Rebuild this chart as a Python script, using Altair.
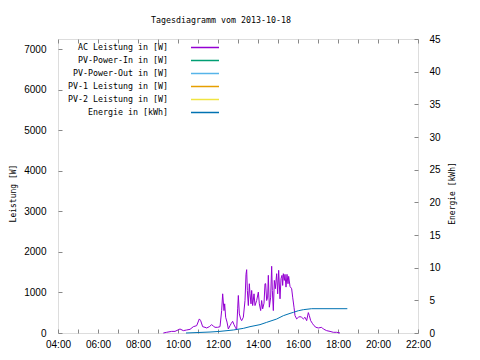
import altair as alt
import pandas as pd

# --- data -------------------------------------------------------------------
series_names = ["AC Leistung in [W]", "PV-Power-In in [W]", "PV-Power-Out in [W]",
                "PV-1 Leistung in [W]", "PV-2 Leistung in [W]", "Energie in [kWh]"]
series_colors = ["#9400d3", "#009e73", "#56b4e9", "#e69f00", "#f0e442", "#0072b2"]

ac_times = ["09:16", "09:26", "09:41", "09:51", "10:06", "10:16", "10:26", "10:36", "10:46", "10:56",
            "11:04", "11:08", "11:14", "11:21", "11:26", "11:34", "11:41", "11:46", "11:51", "11:59",
            "12:06", "12:11", "12:14", "12:18", "12:20", "12:23", "12:27", "12:31", "12:36", "12:40",
            "12:44", "12:48", "12:52", "12:56", "12:59", "13:01", "13:04", "13:08", "13:11", "13:16",
            "13:21", "13:24", "13:26", "13:28", "13:31", "13:34", "13:36", "13:39", "13:41", "13:44",
            "13:48", "13:51", "13:56", "14:01", "14:04", "14:08", "14:11", "14:14", "14:18", "14:21",
            "14:23", "14:26", "14:29", "14:31", "14:34", "14:38", "14:41", "14:43", "14:46", "14:49",
            "14:52", "14:56", "14:59", "15:02", "15:06", "15:09", "15:12", "15:14", "15:16", "15:19",
            "15:21", "15:24", "15:27", "15:30", "15:32", "15:36", "15:41", "15:44", "15:48", "15:51",
            "15:56", "16:01", "16:06", "16:11", "16:16", "16:21", "16:26", "16:31", "16:34", "16:38",
            "16:43", "16:48", "16:54", "17:01", "17:11", "17:16", "17:26", "17:36", "17:46", "17:56",
            "18:06"]
ac_watts = [0, 17, 40, 40, 99, 58, 74, 90, 156, 181,
            347, 305, 156, 140, 124, 156, 206, 170, 140, 140,
            156, 553, 966, 553, 719, 388, 270, 99, 181, 239,
            288, 206, 140, 82, 595, 925, 471, 347, 305, 388,
            801, 1446, 1562, 1049, 677, 1215, 966, 719, 1049, 677,
            966, 677, 801, 1008, 719, 553, 801, 595, 735, 1215,
            1215, 801, 884, 1422, 636, 884, 1645, 1049, 553, 1297,
            1091, 1463, 966, 1546, 843, 1339, 1422, 1173, 1463, 1297,
            1446, 1132, 1446, 1215, 1397, 1149, 1091, 884, 636, 429,
            347, 388, 404, 388, 347, 388, 305, 503, 429, 305,
            239, 181, 140, 124, 140, 99, 58, 40, 17, 17,
            0]

energy_times = ["10:24", "11:36", "12:06", "12:46", "13:16", "13:36", "14:06", "14:26", "14:56",
                "15:16", "15:36", "15:46", "16:01", "16:16", "16:41", "18:28"]
energy_kwh = [0.0, 0.15, 0.25, 0.46, 0.71, 0.97, 1.28, 1.63, 2.14,
              2.65, 3.0, 3.16, 3.41, 3.57, 3.72, 3.72]

x_ticks = list(range(4, 23))
y_left_ticks = list(range(0, 7001, 1000))
y_right_ticks = list(range(0, 46, 5))


def to_hours(s):
    h, m = s.split(":")
    return int(h) + int(m) / 60.0


power_df = pd.DataFrame({"t": [to_hours(s) for s in ac_times], "v": ac_watts,
                         "series": series_names[0]})
energy_df = pd.DataFrame({"t": [to_hours(s) for s in energy_times], "v": energy_kwh,
                          "series": series_names[5]})

FONT = "DejaVu Sans Mono"
FS = 8

x_scale = alt.Scale(domain=[4, 22], nice=False, zero=False)
color = alt.Color("series:N", scale=alt.Scale(domain=series_names, range=series_colors),
                  legend=alt.Legend(orient="none", legendX=142.5, legendY=4, title=None,
                                    padding=0, symbolType="M-4,0H4", symbolSize=49,
                                    symbolStrokeWidth=1.5, rowPadding=4,
                                    labelAlign="right", labelOffset={"expr": "-41.5"},
                                    labelFont=FONT, labelFontSize=8.3,
                                    labelColor="black", values=series_names))

label_expr = "datum.value % 2 == 0 ? (datum.value < 10 ? '0' : '') + datum.value + ':00' : ''"

power = alt.Chart(power_df).mark_line(strokeWidth=1).encode(
    x=alt.X("t:Q", scale=x_scale,
            axis=alt.Axis(orient="bottom", values=x_ticks, labelExpr=label_expr, title=None,
                          offset=-4, tickSize=4, domain=False, grid=False, labelPadding=6,
                          labelFlush=False, labelOverlap=False)),
    y=alt.Y("v:Q", scale=alt.Scale(domain=[0, 7250], nice=False),
            axis=alt.Axis(orient="left", values=y_left_ticks, format="d", title="Leistung [W]",
                          offset=-4, tickSize=4, domain=False, grid=False, labelPadding=12,
                          labelFlush=False, titleX=-49, titleY=154, titleBaseline="middle",
                          titleAngle=270, titleFontWeight="normal", titleFont=FONT,
                          titleFontSize=FS)),
    color=color,
)

energy = alt.Chart(energy_df).mark_line(strokeWidth=1).encode(
    x=alt.X("t:Q", scale=x_scale,
            axis=alt.Axis(orient="top", values=x_ticks, labels=False, title=None,
                          offset=-4, tickSize=4, domain=False, grid=False)),
    y=alt.Y("v:Q", scale=alt.Scale(domain=[0, 45], nice=False),
            axis=alt.Axis(orient="right", values=y_right_ticks, format="d", title="Energie [kWh]",
                          offset=-4, tickSize=4, domain=False, grid=False, labelPadding=11,
                          labelFlush=False, titleAngle=270, titleX=38, titleY=154,
                          titleBaseline="middle", titleFontWeight="normal", titleFont=FONT,
                          titleFontSize=FS)),
    color=color,
)

chart = alt.layer(power, energy).resolve_scale(y="independent").resolve_axis(
    x="independent", y="independent"
).properties(
    width=360, height=294,
    title=alt.TitleParams("Tagesdiagramm vom 2013-10-18", font=FONT, fontSize=8.3,
                          fontWeight="normal", color="black", dx=-17, offset=10),
    autosize=alt.AutoSizeParams(type="none"),
    padding={"left": 50, "top": 31, "right": 54, "bottom": 15},
).configure_view(stroke="black", strokeWidth=1).configure_axis(
    labelFont=FONT, labelFontSize=FS, titleFont=FONT, titleFontSize=FS,
    titleFontWeight="normal", labelColor="black", titleColor="black", tickColor="black"
).configure(background="white")

chart.save("out.html", embed_options={"renderer": "svg", "actions": False})
